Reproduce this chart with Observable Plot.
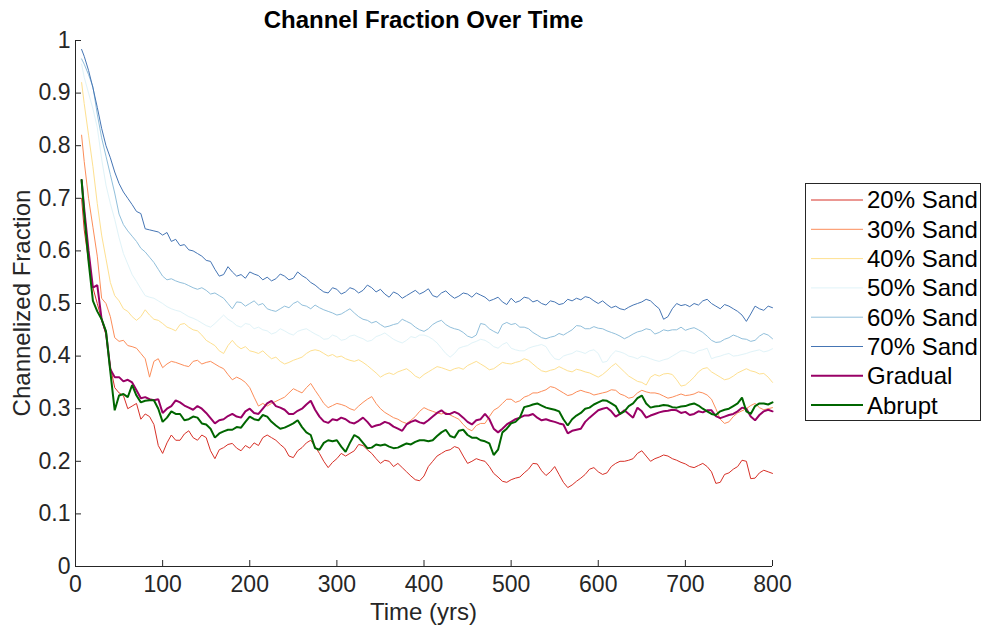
<!DOCTYPE html>
<html><head><meta charset="utf-8">
<script src="https://cdn.jsdelivr.net/npm/d3@7"></script>
<script src="https://cdn.jsdelivr.net/npm/@observablehq/plot@0.6"></script>
<style>
html,body{margin:0;padding:0;background:#fff;}
#wrap{position:relative;width:982px;height:633px;overflow:hidden;font-family:"Liberation Sans",Arial,sans-serif;}
#chart{position:absolute;left:0;top:0;}
#overlay{position:absolute;left:0;top:0;pointer-events:none;}
</style>
</head><body>
<div id="wrap"><div id="chart"></div></div>
<script>
// ---------- data ----------
const years = [7,10,15,20,25,30,35,40,45,50,55,60,65,70,75,80,85,90,95,100,
  105,110,115,120,125,130,135,140,145,150,155,160,165,170,175,180,185,190,195,200,
  205,210,215,220,225,230,235,240,245,250,255,260,265,270,275,280,285,290,295,300,
  305,310,315,320,325,330,335,340,345,350,355,360,365,370,375,380,385,390,395,400,
  405,410,415,420,425,430,435,440,445,450,455,460,465,470,475,480,485,490,495,500,
  505,510,515,520,525,530,535,540,545,550,555,560,565,570,575,580,585,590,595,600,
  605,610,615,620,625,630,635,640,645,650,655,660,665,670,675,680,685,690,695,700,
  705,710,715,720,725,730,735,740,745,750,755,760,765,770,775,780,785,790,795,800];

const sand20 = [0.70,0.64,0.58,0.53,0.5,0.47,0.44,0.38,0.34,0.33,0.325,0.3,0.305,0.31,0.28,0.29,0.285,0.27,0.23,0.215,
  0.235,0.25,0.24,0.24,0.252,0.258,0.245,0.24,0.25,0.245,0.22,0.205,0.222,0.226,0.232,0.234,0.225,0.22,0.23,0.225,
  0.235,0.23,0.245,0.25,0.245,0.24,0.232,0.225,0.21,0.207,0.22,0.226,0.235,0.24,0.228,0.215,0.2,0.188,0.198,0.205,
  0.215,0.21,0.215,0.22,0.232,0.23,0.222,0.215,0.205,0.196,0.202,0.2,0.19,0.196,0.188,0.18,0.172,0.165,0.163,0.172,
  0.19,0.2,0.21,0.215,0.22,0.222,0.228,0.225,0.21,0.196,0.2,0.205,0.202,0.2,0.19,0.177,0.17,0.162,0.16,0.165,
  0.168,0.17,0.178,0.185,0.196,0.195,0.182,0.173,0.18,0.19,0.175,0.16,0.15,0.155,0.162,0.168,0.175,0.185,0.188,0.18,
  0.175,0.178,0.19,0.196,0.2,0.2,0.202,0.205,0.215,0.22,0.21,0.2,0.205,0.208,0.212,0.21,0.205,0.202,0.198,0.195,
  0.19,0.188,0.192,0.196,0.19,0.18,0.158,0.16,0.175,0.178,0.185,0.19,0.202,0.2,0.167,0.168,0.178,0.183,0.18,0.177];

const sand30 = [0.82,0.77,0.7,0.645,0.59,0.51,0.5,0.475,0.435,0.428,0.43,0.42,0.418,0.415,0.405,0.395,0.36,0.39,0.395,0.378,
  0.385,0.39,0.388,0.385,0.382,0.38,0.39,0.392,0.385,0.388,0.39,0.385,0.38,0.376,0.365,0.355,0.36,0.356,0.35,0.34,
  0.322,0.305,0.31,0.305,0.31,0.314,0.318,0.322,0.33,0.338,0.334,0.33,0.34,0.348,0.335,0.323,0.31,0.302,0.306,0.31,
  0.308,0.305,0.3,0.297,0.305,0.312,0.318,0.323,0.31,0.3,0.293,0.288,0.283,0.28,0.275,0.272,0.278,0.285,0.295,0.302,
  0.298,0.295,0.292,0.29,0.293,0.288,0.284,0.28,0.27,0.262,0.258,0.268,0.272,0.272,0.285,0.297,0.302,0.31,0.318,0.318,
  0.312,0.315,0.322,0.325,0.33,0.33,0.333,0.336,0.342,0.34,0.335,0.33,0.325,0.327,0.332,0.335,0.332,0.33,0.326,0.328,
  0.33,0.332,0.336,0.335,0.328,0.325,0.32,0.322,0.33,0.335,0.332,0.33,0.33,0.328,0.324,0.32,0.322,0.325,0.328,0.325,
  0.326,0.328,0.332,0.33,0.326,0.318,0.3,0.28,0.272,0.275,0.285,0.292,0.296,0.3,0.306,0.31,0.302,0.298,0.3,0.302];

const sand40 = [0.92,0.88,0.82,0.76,0.69,0.63,0.585,0.54,0.515,0.505,0.49,0.485,0.475,0.468,0.475,0.488,0.478,0.47,0.468,0.462,
  0.455,0.452,0.448,0.46,0.462,0.455,0.45,0.448,0.44,0.43,0.425,0.42,0.41,0.405,0.42,0.43,0.42,0.414,0.418,0.41,
  0.408,0.405,0.41,0.402,0.395,0.398,0.39,0.385,0.388,0.392,0.395,0.398,0.405,0.41,0.412,0.41,0.405,0.4,0.403,0.398,
  0.4,0.395,0.392,0.39,0.393,0.388,0.382,0.375,0.368,0.36,0.365,0.368,0.365,0.37,0.373,0.376,0.37,0.362,0.358,0.365,
  0.37,0.375,0.38,0.378,0.375,0.372,0.376,0.378,0.375,0.382,0.386,0.39,0.385,0.38,0.374,0.376,0.382,0.388,0.386,0.385,
  0.388,0.39,0.395,0.392,0.385,0.378,0.372,0.37,0.373,0.375,0.38,0.376,0.372,0.37,0.375,0.373,0.37,0.368,0.364,0.36,
  0.365,0.372,0.38,0.386,0.378,0.37,0.362,0.357,0.352,0.35,0.345,0.36,0.365,0.362,0.366,0.367,0.365,0.355,0.343,0.345,
  0.352,0.36,0.37,0.376,0.378,0.37,0.365,0.36,0.355,0.357,0.362,0.368,0.372,0.376,0.372,0.37,0.366,0.367,0.36,0.35];

const sand50 = [0.955,0.93,0.9,0.87,0.835,0.775,0.725,0.69,0.66,0.625,0.595,0.575,0.555,0.542,0.528,0.515,0.512,0.51,0.505,0.5,
  0.494,0.49,0.487,0.485,0.48,0.475,0.472,0.468,0.463,0.458,0.455,0.462,0.47,0.478,0.47,0.465,0.458,0.455,0.462,0.46,
  0.452,0.455,0.45,0.448,0.442,0.445,0.452,0.448,0.443,0.44,0.447,0.45,0.452,0.447,0.442,0.438,0.432,0.433,0.44,0.437,
  0.43,0.432,0.438,0.44,0.436,0.433,0.428,0.43,0.437,0.44,0.444,0.438,0.432,0.428,0.425,0.43,0.437,0.435,0.44,0.44,
  0.437,0.432,0.425,0.415,0.405,0.398,0.405,0.415,0.418,0.42,0.425,0.428,0.432,0.43,0.425,0.418,0.415,0.422,0.426,0.415,
  0.412,0.41,0.41,0.415,0.418,0.42,0.422,0.418,0.405,0.395,0.393,0.4,0.403,0.405,0.41,0.408,0.405,0.41,0.412,0.405,
  0.388,0.39,0.402,0.41,0.408,0.405,0.4,0.398,0.395,0.4,0.398,0.395,0.392,0.39,0.393,0.395,0.4,0.405,0.41,0.41,
  0.407,0.405,0.41,0.412,0.415,0.395,0.398,0.4,0.403,0.405,0.4,0.401,0.403,0.405,0.408,0.41,0.412,0.408,0.41,0.414];

const sand60 = [0.965,0.955,0.935,0.912,0.86,0.815,0.78,0.745,0.71,0.67,0.65,0.638,0.628,0.618,0.605,0.598,0.588,0.578,0.565,0.552,
  0.545,0.547,0.543,0.54,0.538,0.534,0.53,0.527,0.53,0.525,0.518,0.52,0.515,0.51,0.5,0.49,0.503,0.502,0.495,0.5,
  0.505,0.497,0.5,0.49,0.487,0.485,0.49,0.495,0.492,0.5,0.504,0.497,0.495,0.49,0.497,0.492,0.488,0.485,0.482,0.478,
  0.48,0.485,0.49,0.482,0.475,0.47,0.468,0.463,0.466,0.46,0.455,0.457,0.46,0.462,0.47,0.466,0.462,0.455,0.45,0.447,
  0.452,0.46,0.465,0.468,0.46,0.455,0.452,0.45,0.445,0.438,0.435,0.44,0.462,0.46,0.452,0.447,0.443,0.46,0.464,0.46,
  0.462,0.455,0.455,0.452,0.445,0.44,0.435,0.433,0.436,0.438,0.443,0.44,0.445,0.45,0.458,0.457,0.452,0.452,0.456,0.453,
  0.452,0.448,0.445,0.442,0.438,0.433,0.437,0.442,0.446,0.448,0.452,0.45,0.442,0.445,0.45,0.448,0.45,0.45,0.455,0.449,
  0.452,0.454,0.45,0.445,0.438,0.43,0.426,0.427,0.432,0.435,0.44,0.437,0.433,0.432,0.428,0.43,0.438,0.443,0.44,0.433];

const sand70 = [0.983,0.97,0.943,0.91,0.873,0.833,0.80,0.777,0.75,0.728,0.712,0.70,0.688,0.675,0.671,0.642,0.64,0.638,0.636,0.63,
  0.635,0.618,0.622,0.61,0.612,0.602,0.6,0.595,0.59,0.582,0.58,0.565,0.552,0.555,0.57,0.56,0.552,0.555,0.548,0.56,
  0.556,0.553,0.545,0.55,0.543,0.547,0.556,0.552,0.545,0.548,0.56,0.553,0.548,0.54,0.535,0.528,0.522,0.52,0.53,0.527,
  0.518,0.522,0.53,0.527,0.52,0.525,0.535,0.53,0.522,0.527,0.518,0.512,0.522,0.518,0.51,0.515,0.52,0.525,0.518,0.522,
  0.528,0.515,0.512,0.52,0.524,0.516,0.51,0.514,0.52,0.518,0.512,0.52,0.516,0.512,0.505,0.508,0.512,0.503,0.498,0.51,
  0.502,0.505,0.512,0.51,0.503,0.506,0.5,0.497,0.505,0.503,0.498,0.5,0.508,0.505,0.51,0.507,0.513,0.511,0.505,0.5,
  0.505,0.498,0.492,0.495,0.49,0.488,0.493,0.497,0.5,0.503,0.508,0.505,0.497,0.49,0.47,0.475,0.49,0.5,0.496,0.498,
  0.494,0.5,0.497,0.505,0.508,0.5,0.495,0.49,0.498,0.495,0.49,0.485,0.478,0.466,0.48,0.495,0.49,0.487,0.495,0.492];

const gradual = [0.735,0.68,0.6,0.53,0.535,0.47,0.445,0.375,0.36,0.36,0.352,0.355,0.35,0.335,0.32,0.322,0.318,0.316,0.318,0.292,
  0.3,0.305,0.316,0.312,0.306,0.302,0.298,0.305,0.3,0.292,0.282,0.272,0.278,0.28,0.286,0.29,0.285,0.283,0.295,0.3,
  0.292,0.29,0.3,0.31,0.315,0.305,0.302,0.298,0.29,0.29,0.296,0.3,0.308,0.315,0.298,0.285,0.276,0.273,0.28,0.278,
  0.283,0.28,0.274,0.272,0.277,0.283,0.275,0.265,0.268,0.27,0.275,0.272,0.266,0.262,0.258,0.27,0.275,0.278,0.274,0.272,
  0.278,0.285,0.292,0.297,0.29,0.29,0.294,0.29,0.283,0.275,0.27,0.278,0.28,0.29,0.28,0.262,0.255,0.262,0.27,0.275,
  0.28,0.283,0.287,0.287,0.29,0.283,0.278,0.28,0.277,0.275,0.272,0.27,0.253,0.258,0.26,0.262,0.275,0.283,0.29,0.297,
  0.3,0.302,0.295,0.285,0.29,0.297,0.29,0.283,0.302,0.295,0.283,0.287,0.29,0.293,0.295,0.296,0.298,0.297,0.292,0.294,
  0.288,0.29,0.295,0.293,0.297,0.297,0.286,0.282,0.285,0.288,0.29,0.295,0.302,0.3,0.285,0.278,0.288,0.295,0.298,0.295];

const abrupt = [0.735,0.67,0.58,0.505,0.485,0.47,0.447,0.37,0.297,0.325,0.328,0.322,0.345,0.325,0.312,0.315,0.316,0.316,0.3,0.275,
  0.283,0.295,0.29,0.29,0.278,0.28,0.285,0.283,0.272,0.27,0.262,0.245,0.253,0.257,0.26,0.26,0.265,0.264,0.275,0.285,
  0.28,0.278,0.288,0.285,0.275,0.268,0.262,0.264,0.268,0.272,0.278,0.265,0.255,0.25,0.225,0.222,0.235,0.24,0.238,0.24,
  0.228,0.218,0.235,0.25,0.245,0.235,0.225,0.226,0.232,0.23,0.232,0.228,0.225,0.226,0.23,0.234,0.232,0.237,0.24,0.24,
  0.238,0.24,0.248,0.255,0.26,0.248,0.245,0.258,0.26,0.25,0.245,0.245,0.24,0.238,0.234,0.212,0.222,0.255,0.262,0.272,
  0.275,0.283,0.303,0.305,0.308,0.31,0.306,0.302,0.3,0.298,0.295,0.28,0.268,0.28,0.287,0.292,0.3,0.302,0.308,0.312,
  0.316,0.315,0.31,0.305,0.29,0.295,0.305,0.31,0.32,0.325,0.31,0.302,0.304,0.305,0.307,0.306,0.303,0.302,0.304,0.305,
  0.308,0.31,0.306,0.3,0.295,0.29,0.288,0.295,0.298,0.3,0.305,0.31,0.321,0.295,0.29,0.305,0.31,0.31,0.308,0.312];

const seriesNames = ["20% Sand","30% Sand","40% Sand","50% Sand","60% Sand","70% Sand","Gradual","Abrupt"];
const seriesValues = [sand20, sand30, sand40, sand50, sand60, sand70, gradual, abrupt];
const seriesColors = ["#d73027","#fc8d59","#fee090","#e0f3f8","#91bfdb","#4575b4","#990066","#006600"];
const seriesWidths = [1,1,1,1,1,1,2,2];

const xTicks = [0,100,200,300,400,500,600,700,800];
const yTicks = [0,0.1,0.2,0.3,0.4,0.5,0.6,0.7,0.8,0.9,1];

const titleText = "Channel Fraction Over Time";
const xLabel = "Time (yrs)";
const yLabel = "Channelized Fraction";

// ---------- chart ----------
const axisColor = "#262626";
const rowsOf = vals => years.map((t, i) => ({t, v: vals[i]}));

const lineMarks = seriesValues.map((vals, k) =>
  Plot.line(rowsOf(vals), {x: "t", y: "v", stroke: seriesColors[k], strokeWidth: seriesWidths[k], strokeLinejoin: "miter"})
);

const chart = Plot.plot({
  width: 800,
  height: 633,
  marginLeft: 75,
  marginRight: 28,
  marginTop: 40,
  marginBottom: 67,
  style: {fontFamily: "'Liberation Sans', Arial, sans-serif", fontSize: "23px", color: axisColor, background: "transparent", overflow: "visible"},
  x: {domain: [0, 800]},
  y: {domain: [0, 1]},
  marks: [
    ...lineMarks,
    Plot.ruleX([0], {stroke: axisColor, strokeWidth: 1}),
    Plot.ruleY([0], {stroke: axisColor, strokeWidth: 1}),
    Plot.axisX(xTicks, {tickSize: 6, dy: -6, tickFormat: () => "", label: null, stroke: axisColor}),
    Plot.axisX(xTicks, {tickSize: 0, tickPadding: 9, tickFormat: d => `${d}`, label: null}),
    Plot.axisY(yTicks, {tickSize: 6, dx: 6, tickFormat: () => "", label: null, stroke: axisColor}),
    Plot.axisY(yTicks, {tickSize: 0, tickPadding: 5, tickFormat: d => `${d}`, label: null})
  ]
});
document.getElementById("chart").appendChild(chart);

// ---------- overlay: title, axis labels, legend ----------
const sx = chart.scale("x"), sy = chart.scale("y");
const cx = (sx.apply(0) + sx.apply(800)) / 2;
const cy = (sy.apply(0) + sy.apply(1)) / 2;

const ov = d3.select("#wrap").append("svg")
  .attr("id", "overlay").attr("width", 982).attr("height", 633)
  .style("font-family", "'Liberation Sans', Arial, sans-serif");

ov.append("text").attr("x", cx).attr("y", 28).attr("text-anchor", "middle")
  .attr("font-size", 24).attr("font-weight", "bold").attr("fill", "#000").text(titleText);

ov.append("text").attr("x", cx).attr("y", 620).attr("text-anchor", "middle")
  .attr("font-size", 24).attr("fill", axisColor).text(xLabel);

ov.append("text").attr("transform", `translate(30,${cy}) rotate(-90)`).attr("text-anchor", "middle")
  .attr("font-size", 24).attr("fill", axisColor).text(yLabel);

const lg = ov.append("g").attr("transform", "translate(805,183)");
lg.append("rect").attr("x", 0.5).attr("y", 0.5).attr("width", 175).attr("height", 237)
  .attr("fill", "#fff").attr("stroke", axisColor).attr("stroke-width", 1);
seriesNames.forEach((name, k) => {
  const yy = 17 + k * 29.3;
  lg.append("line").attr("x1", 6).attr("x2", 58).attr("y1", yy).attr("y2", yy)
    .attr("stroke", seriesColors[k]).attr("stroke-width", seriesWidths[k]);
  lg.append("text").attr("x", 62).attr("y", yy).attr("dy", "0.35em")
    .attr("font-size", 24).attr("fill", "#000").text(name);
});
</script>
</body></html>
